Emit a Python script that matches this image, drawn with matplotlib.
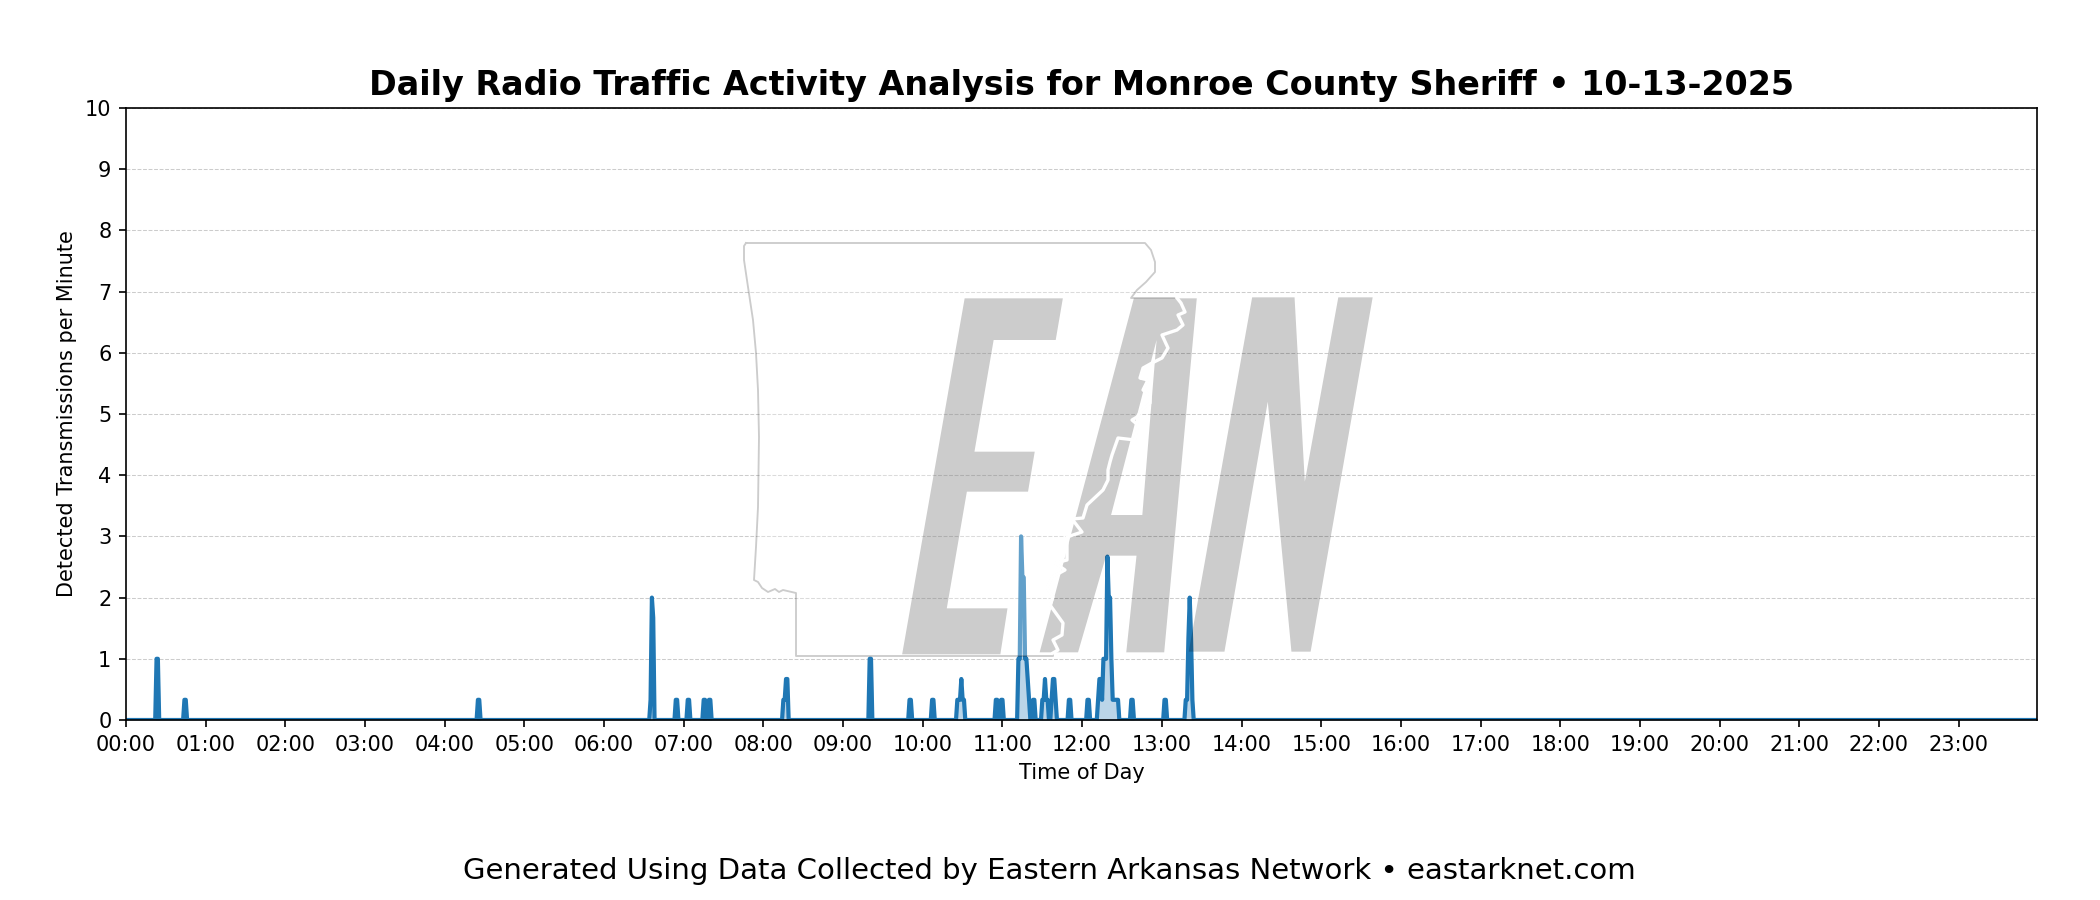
import numpy as np
import matplotlib
matplotlib.use("Agg")
import matplotlib.pyplot as plt
from matplotlib.patches import Polygon, PathPatch
from matplotlib.path import Path
from matplotlib.lines import Line2D

# minutes of the day with traffic, everything else is zero
active_minutes = [23, 24, 44, 45, 265, 266, 395, 396, 397, 414, 415, 423, 424, 435, 436, 439, 440,
                  495, 496, 497, 498, 560, 561, 590, 591, 607, 608,
                  626, 627, 628, 629, 630, 631, 655, 656, 659, 660,
                  672, 673, 674, 675, 676, 677, 678, 679, 680, 683, 684,
                  690, 691, 692, 693, 694, 697, 698, 699, 700, 710, 711, 724, 725,
                  732, 733, 734, 735, 736, 737, 738, 739, 740, 741, 742, 743, 744, 745, 746, 747,
                  757, 758, 782, 783, 798, 799, 800, 801, 802, 803]
active_values = [1, 1, 0.33, 0.33, 0.33, 0.33, 0.33, 2, 1.67, 0.33, 0.33, 0.33, 0.33, 0.33, 0.33, 0.33, 0.33,
                 0.33, 0.33, 0.67, 0.67, 1, 1, 0.33, 0.33, 0.33, 0.33,
                 0.33, 0.33, 0.33, 0.67, 0.33, 0.33, 0.33, 0.33, 0.33, 0.33,
                 1, 1, 3, 2.33, 2.33, 1, 1, 0.67, 0.33, 0.33, 0.33,
                 0.33, 0.33, 0.67, 0.33, 0.33, 0.33, 0.67, 0.67, 0.33, 0.33, 0.33, 0.33, 0.33,
                 0.33, 0.67, 0.67, 0.33, 1, 1, 1, 2.67, 2, 2, 1, 0.33, 0.33, 0.33, 0.33, 0.33,
                 0.33, 0.33, 0.33, 0.33, 0.33, 0.33, 1.33, 2, 1.33, 0.33]

hour_labels = ["%02d:00" % h for h in range(24)]
y_ticks = list(range(11))

letter_e = [(548, 235), (768, 235), (752, 360), (613, 360), (570, 695), (705, 695), (690, 815), (553, 815),
            (508, 1165), (644, 1165), (628, 1303), (408, 1303)]
letter_a = [(927, 235), (1068, 235), (995, 1297), (910, 1297), (933, 1007), (865, 1007), (802, 1297), (716, 1297)]
letter_a_hole = [(978, 360), (876, 885), (946, 885)]
letter_n = [(1192, 232), (1287, 232), (1310, 785), (1385, 232), (1462, 232), (1323, 1295), (1280, 1295),
            (1227, 545), (1130, 1295), (1050, 1295)]

# state outline, in pixels of the 2100x900 picture
state_north = [(746, 243), (1145, 243), (1151, 250), (1155, 262), (1155, 272), (1146, 282), (1137, 290), (1131, 298)]
state_river = [(1177, 298), (1181, 303), (1185, 312), (1178, 315), (1183, 325), (1177, 330), (1162, 335), (1168, 348),
               (1162, 358), (1152, 363), (1143, 368), (1140, 378), (1148, 380), (1143, 390), (1150, 395), (1150, 403),
               (1142, 410), (1137, 417), (1132, 420), (1138, 425), (1135, 440), (1118, 438), (1112, 455), (1110, 462),
               (1108, 470), (1108, 480), (1103, 490), (1087, 505), (1083, 518), (1072, 519), (1082, 532), (1067, 537),
               (1067, 560), (1055, 563), (1065, 570), (1052, 577), (1047, 588), (1053, 597), (1050, 605), (1063, 623),
               (1062, 635), (1053, 640), (1058, 650), (1053, 653), (1053, 656)]
state_rest = [(796, 656), (796, 593), (783, 590), (779, 592), (775, 589), (768, 592), (762, 588), (758, 582), (754, 580),
              (756, 547), (758, 507), (759, 437), (758, 390), (756, 353), (753, 320), (748, 287), (744, 260), (744, 246)]
river_blob = [(1143, 368), (1152, 363), (1149, 378), (1140, 380)]


def crop_to_px(points):
    pts = np.array(points, dtype=float)
    return np.column_stack([720 + pts[:, 0] / 2.24, 220 + pts[:, 1] / 3])


def to_fig(points):
    pts = np.array(points, dtype=float)
    return np.column_stack([pts[:, 0] / 2100, 1 - pts[:, 1] / 900])


minutes = np.arange(1440)
counts = np.zeros(1440)
counts[active_minutes] = active_values

fig, ax = plt.subplots(figsize=(14, 6), dpi=150)
fig.subplots_adjust(left=126 / 2100, right=2037 / 2100, top=1 - 108 / 900, bottom=1 - 720 / 900)

ax.plot(minutes, counts, color="tab:blue", linewidth=2)
ax.fill_between(minutes, counts, 0, color="tab:blue", alpha=0.3)

ax.set_xlim(0, 1439)
ax.set_ylim(0, 10)
ax.set_xticks(np.arange(24) * 60)
ax.set_xticklabels(hour_labels, fontsize=10)
ax.set_yticks(y_ticks)
ax.tick_params(axis="y", labelsize=10)
ax.grid(axis="y", linestyle="--", linewidth=0.5, color="gray", alpha=0.4)
ax.set_xlabel("Time of Day", fontsize=10)
ax.set_ylabel("Detected Transmissions per Minute", fontsize=10)
ax.set_title("Daily Radio Traffic Activity Analysis for Monroe County Sheriff • 10-13-2025",
             fontsize=16, fontweight="bold", pad=6)
fig.text(0.4995, 0.032, "Generated Using Data Collected by Eastern Arkansas Network • eastarknet.com",
         ha="center", va="center", fontsize=14)

# watermark sits over the axes
state = to_fig(state_north + state_river + state_rest)
fig.add_artist(Polygon(state, closed=True, facecolor="white", edgecolor="none", alpha=0.3, zorder=5,
                       transform=fig.transFigure))

verts = []
codes = []
for shape in [letter_e, letter_a, letter_a_hole, letter_n]:
    p = to_fig(crop_to_px(shape))
    verts += list(p) + [p[0]]
    codes += [Path.MOVETO] + [Path.LINETO] * (len(p) - 1) + [Path.CLOSEPOLY]
fig.add_artist(PathPatch(Path(verts, codes), facecolor="black", edgecolor="none", alpha=0.2, zorder=6,
                         transform=fig.transFigure))

outline = to_fig(state_north + state_river + state_rest + state_north[:1])
fig.add_artist(Line2D(outline[:, 0], outline[:, 1], color="black", alpha=0.2, linewidth=0.9, zorder=7,
                      transform=fig.transFigure))
river = to_fig(state_river[:-1])
fig.add_artist(Line2D(river[:, 0], river[:, 1], color="white", linewidth=1.6, zorder=8, transform=fig.transFigure))
fig.add_artist(Polygon(to_fig(river_blob), closed=True, facecolor="white", edgecolor="none", zorder=8,
                       transform=fig.transFigure))

fig.savefig("out.png", dpi=150)
